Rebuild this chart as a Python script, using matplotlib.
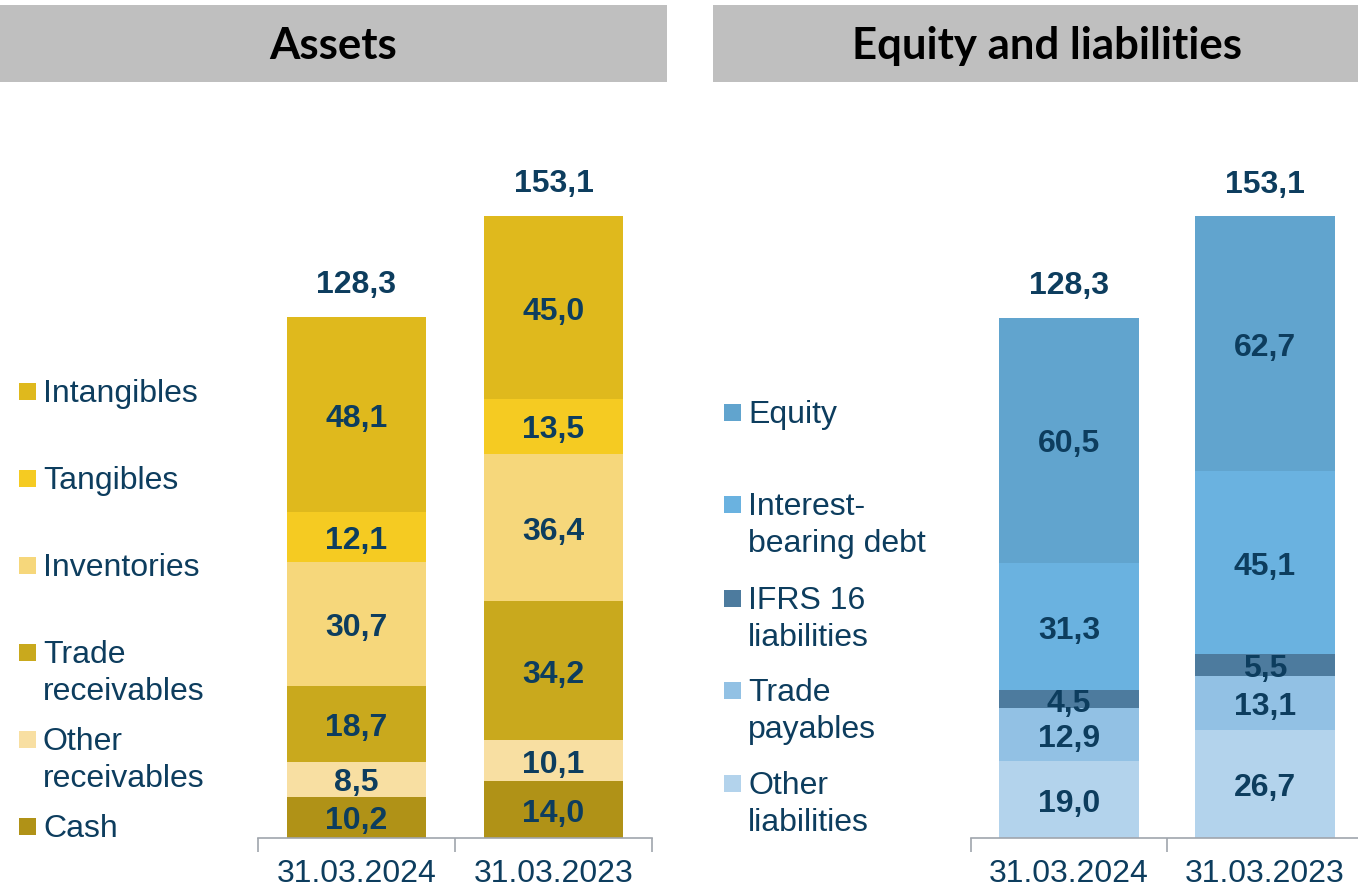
import matplotlib
matplotlib.use("Agg")
import matplotlib.pyplot as plt
from matplotlib.patches import Rectangle

# ---------------- data ----------------
dates = ["31.03.2024", "31.03.2023"]

asset_labels = ["Cash", "Other\nreceivables", "Trade\nreceivables", "Inventories", "Tangibles", "Intangibles"]
asset_values = {
    "Cash": [10.2, 14.0],
    "Other\nreceivables": [8.5, 10.1],
    "Trade\nreceivables": [18.7, 34.2],
    "Inventories": [30.7, 36.4],
    "Tangibles": [12.1, 13.5],
    "Intangibles": [48.1, 45.0],
}
asset_colors = ["#B09217", "#F8DFA2", "#C9A91D", "#F6D77B", "#F5CB22", "#DFB91D"]
asset_totals = [128.3, 153.1]

liab_labels = ["Other\nliabilities", "Trade\npayables", "IFRS 16\nliabilities", "Interest-\nbearing debt", "Equity"]
liab_values = {
    "Other\nliabilities": [19.0, 26.7],
    "Trade\npayables": [12.9, 13.1],
    "IFRS 16\nliabilities": [4.5, 5.5],
    "Interest-\nbearing debt": [31.3, 45.1],
    "Equity": [60.5, 62.7],
}
liab_colors = ["#B3D3EC", "#92C1E4", "#4D7B9E", "#6AB2E0", "#61A4CE"]
liab_totals = [128.3, 153.1]

titles = ["Assets", "Equity and liabilities"]

# ---------------- style ----------------
W, H = 1358, 890
TXT = "#0D3D5E"
AX = "#A0A5AD"
plt.rcParams["font.family"] = ["Liberation Sans", "DejaVu Sans"]

fig = plt.figure(figsize=(W / 100, H / 100), dpi=100)


def fx(px):
    return px / W


def fy(py):
    return 1 - py / H


def make_axes(left_px, right_px):
    bottom = 838
    top = 838 - 160 * 4.06
    ax = fig.add_axes([fx(left_px), fy(bottom), fx(right_px - left_px), (bottom - top) / H])
    ax.set_xlim(-0.5, 1.5)
    ax.set_ylim(0, 160)
    for s in ["top", "right", "left"]:
        ax.spines[s].set_visible(False)
    ax.spines["bottom"].set_color(AX)
    ax.spines["bottom"].set_linewidth(1.2)
    ax.set_yticks([])
    ax.set_xticks([-0.5, 0.5, 1.5], minor=False)
    ax.set_xticklabels([])
    ax.tick_params(axis="x", which="major", length=10, color=AX, width=1.2)
    ax.set_xticks([0, 1], minor=True)
    ax.set_xticklabels(dates, minor=True, fontsize=23, color=TXT)
    ax.tick_params(axis="x", which="minor", length=0, pad=15)
    ax.patch.set_alpha(0)
    return ax


def draw_stack(ax, labels, values, colors, totals):
    x = [0, 1]
    bottoms = [0.0, 0.0]
    for lab, col in zip(labels, colors):
        vals = values[lab]
        ax.bar(x, vals, width=0.71, bottom=bottoms, color=col, edgecolor="none")
        for xi, v, b in zip(x, vals, bottoms):
            ax.annotate(f"{v:.1f}".replace(".", ","), (xi, b + v / 2), xytext=(0, -3),
                        textcoords="offset points", ha="center", va="center",
                        fontsize=23, fontweight="bold", color=TXT)
        bottoms = [b + v for b, v in zip(bottoms, vals)]
    for xi, t, b in zip(x, totals, bottoms):
        ax.annotate(f"{t:.1f}".replace(".", ","), (xi, b), xytext=(0, 12), textcoords="offset points",
                    ha="center", va="bottom", fontsize=23, fontweight="bold", color=TXT)


ax1 = make_axes(258, 652)
draw_stack(ax1, asset_labels, asset_values, asset_colors, asset_totals)
ax2 = make_axes(971, 1363)
draw_stack(ax2, liab_labels, liab_values, liab_colors, liab_totals)

# ---------------- title banners ----------------
fig.patches.append(Rectangle((fx(0), fy(82)), fx(667), (82 - 5) / H, transform=fig.transFigure,
                             facecolor="#BFBFBF", edgecolor="none", zorder=0))
fig.patches.append(Rectangle((fx(713), fy(82)), fx(W - 713), (82 - 5) / H, transform=fig.transFigure,
                             facecolor="#BFBFBF", edgecolor="none", zorder=0))
fig.text(fx(333), fy(46), titles[0], ha="center", va="center", fontsize=31.5, fontweight="bold",
         color="black", family=["Lato", "DejaVu Sans"])
fig.text(fx(1047), fy(46), titles[1], ha="center", va="center", fontsize=31.5, fontweight="bold",
         color="black", family=["Lato", "DejaVu Sans"])


# ---------------- legends ----------------
def legend(items, colors, ys, mx, tx):
    for lab, col, y in zip(items, colors, ys):
        fig.patches.append(Rectangle((fx(mx), fy(y + 9)), fx(17), 17 / H, transform=fig.transFigure,
                                     facecolor=col, edgecolor="none"))
        for i, line in enumerate(lab.split("\n")):
            fig.text(fx(tx), fy(y + 3 + 37 * i), line, ha="left", va="center", fontsize=23, color=TXT)


legend(asset_labels, asset_colors, [826, 739, 652, 565, 478, 391], 19, 43)
legend(liab_labels, liab_colors, [783, 690, 598, 504, 412], 724, 748)

fig.savefig("out.png", dpi=100)
